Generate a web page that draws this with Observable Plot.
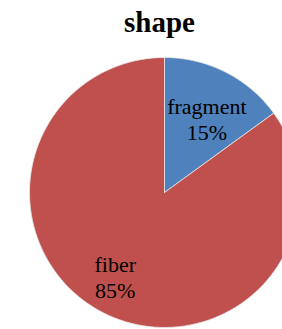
<!DOCTYPE html>
<html><head><meta charset="utf-8">
<script src="https://cdn.jsdelivr.net/npm/d3@7"></script>
<script src="https://cdn.jsdelivr.net/npm/@observablehq/plot@0.6"></script>
<style>html,body{margin:0;padding:0;background:#fff;overflow:hidden}</style>
</head><body><div id="chart"></div>
<script>
const title = "shape";
const categories = ["fragment", "fiber"];
const values = [15, 85];
const labels = ["15%", "85%"];
const colors = ["#4F81BD", "#C0504D"];

const W = 282, H = 329, cx = 164, cy = 192, R = 135;
const pie = d3.pie().sort(null).value(d => d.value)(categories.map((c, i) => ({name: c, value: values[i], label: labels[i], color: colors[i]})));
const pts = [];
for (const s of pie) {
  const n = 120;
  pts.push({name: s.data.name, x: 0, y: 0});
  for (let k = 0; k <= n; k++) {
    const a = s.startAngle + (s.endAngle - s.startAngle) * k / n;
    pts.push({name: s.data.name, x: Math.sin(a), y: Math.cos(a)});
  }
  pts.push({name: s.data.name, x: 0, y: 0});
}
const labelR = {fragment: 0.63, fiber: 0.72};
const labelShift = {fragment: 0.05, fiber: 0.06};
const labelPts = pie.map(s => {
  const a = (s.startAngle + s.endAngle) / 2 + labelShift[s.data.name];
  const r = labelR[s.data.name];
  return {x: r * Math.sin(a), y: r * Math.cos(a), text: s.data.name + "\n" + s.data.label};
});

const chart = Plot.plot({
  width: W, height: H, margin: 0,
  x: {domain: [-1, 1], range: [cx - R, cx + R], axis: null},
  y: {domain: [-1, 1], range: [cy + R, cy - R], axis: null},
  color: {domain: categories, range: colors},
  style: {fontFamily: "'Liberation Serif','Times New Roman',serif", background: "#fff"},
  marks: [
    Plot.line(pts, {x: "x", y: "y", z: "name", fill: "name", stroke: "#e8e8e8", strokeWidth: 0.8, curve: "linear"}),
    Plot.text(labelPts, {x: "x", y: "y", text: "text", fontSize: 22, fill: "#000", lineHeight: 1.2}),
    Plot.text([title], {frameAnchor: "top", dy: 11, fontSize: 29, fontWeight: "bold", fill: "#000", dx: 18})
  ]
});
document.getElementById("chart").append(chart);
</script></body></html>
